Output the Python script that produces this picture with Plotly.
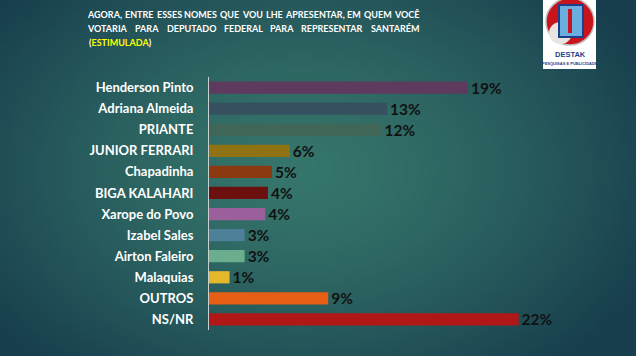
import plotly.graph_objects as go
import numpy as np
import zlib, struct, base64

# ---------------- data ----------------
categories = ["Henderson Pinto", "Adriana Almeida", "PRIANTE", "JUNIOR FERRARI", "Chapadinha",
              "BIGA KALAHARI", "Xarope do Povo", "Izabel Sales", "Airton Faleiro", "Malaquias",
              "OUTROS", "NS/NR"]
values = [18.9, 13.0, 12.6, 5.9, 4.6, 4.3, 4.1, 2.6, 2.6, 1.5, 8.7, 22.6]
value_labels = ["19%", "13%", "12%", "6%", "5%", "4%", "4%", "3%", "3%", "1%", "9%", "22%"]
bar_colors = ["#5e3a5f", "#37505f", "#3f6656", "#8f7213", "#8b3a10", "#6b0f0f",
              "#9b5f9b", "#4f8099", "#6aae8e", "#e5b82b", "#e65f14", "#b01818"]
title_line1 = "AGORA, ENTRE ESSES NOMES QUE VOU LHE APRESENTAR, EM QUEM VOCÊ"
title_line2 = "VOTARIA PARA DEPUTADO FEDERAL PARA REPRESENTAR SANTARÉM"
title_line3 = "(<span style='color:#ffff00'>ESTIMULADA</span>)"

# ---------------- layout constants ----------------
W, H = 636, 356
ML, MR, MT, MB = 209, 16, 77, 26
PW, PH = W - ML - MR, H - MT - MB


def px(x):
    return (x - ML) / PW


def py(y):
    return 1 - (y - MT) / PH


# ---------------- background gradient image ----------------
GW, GH = 160, 90
yy, xx = np.mgrid[0:GH, 0:GW]
gx = (xx + 0.5) / GW * W
gy = (yy + 0.5) / GH * H
d = np.sqrt(((gx - 300) / 380) ** 2 + ((gy - 170) / 260) ** 2)
t = np.clip(d, 0, 1) ** 1.4
c0 = np.array([0x36, 0x76, 0x6b], dtype=float)
c1 = np.array([0x18, 0x3f, 0x4e], dtype=float)
img = c0 * (1 - t)[..., None] + c1 * t[..., None]
img = np.clip(img, 0, 255).astype(np.uint8)
raw = b"".join(b"\x00" + img[r].tobytes() for r in range(GH))


def chunk(tag, data):
    return struct.pack(">I", len(data)) + tag + data + struct.pack(">I", zlib.crc32(tag + data) & 0xffffffff)


png = (b"\x89PNG\r\n\x1a\n" + chunk(b"IHDR", struct.pack(">IIBBBBB", GW, GH, 8, 2, 0, 0, 0))
       + chunk(b"IDAT", zlib.compress(raw)) + chunk(b"IEND", b""))
bg_src = "data:image/png;base64," + base64.b64encode(png).decode()

# ---------------- figure ----------------
fig = go.Figure(go.Bar(
    x=values, y=categories, orientation="h",
    marker=dict(color=bar_colors, line=dict(width=0)),
    text=value_labels, textposition="outside", cliponaxis=False, constraintext="none",
    textfont=dict(family="Lato", size=15.5, color="#111111", weight="bold"),
    hoverinfo="skip",
))

fig.update_layout(
    width=W, height=H,
    margin=dict(l=ML, r=MR, t=MT, b=MB),
    paper_bgcolor="#1f4f58", plot_bgcolor="rgba(0,0,0,0)",
    bargap=0.42, showlegend=False,
    xaxis=dict(range=[0, 30], visible=False, fixedrange=True),
    yaxis=dict(autorange="reversed", showline=True, linecolor="#c8d0d0", linewidth=1,
               ticks="", ticklabelstandoff=12, showgrid=False,
               tickfont=dict(family="Lato", size=13, color="white", weight="bold")),
    images=[dict(source=bg_src, xref="paper", yref="paper", x=px(0), y=py(0),
                 sizex=W / PW, sizey=H / PH, sizing="stretch", xanchor="left", yanchor="top",
                 layer="below")],
)

# ---------------- title (justified word by word) ----------------
TFS = 9
tfont = dict(family="Lato", size=TFS, color="white", weight="bold")
adv = {"A": 690, "B": 650, "C": 640, "D": 740, "E": 560, "F": 540, "G": 720, "H": 760, "I": 290,
       "J": 400, "K": 680, "L": 480, "M": 900, "N": 760, "O": 800, "P": 610, "Q": 800, "R": 640,
       "S": 530, "T": 580, "U": 730, "V": 690, "W": 1020, "X": 660, "Y": 640, "Z": 600,
       "É": 560, "Ê": 560, ",": 220}


def wwidth(w):
    return sum(adv.get(c, 600) for c in w) / 1000 * TFS


X_LEFT, X_RIGHT = 88, 419
annotations = []
for line, yline in ((title_line1, 14), (title_line2, 28)):
    words = line.split(" ")
    widths = [wwidth(w) for w in words]
    gap = (X_RIGHT - X_LEFT - sum(widths)) / (len(words) - 1)
    xcur = X_LEFT
    for w, wd in zip(words, widths):
        annotations.append(dict(text=w, x=px(xcur + wd / 2), y=py(yline), xref="paper", yref="paper",
                                xanchor="center", yanchor="middle", showarrow=False, font=tfont))
        xcur += wd + gap
annotations.append(dict(text=title_line3, x=px(X_LEFT - 1), y=py(43),
                        xref="paper", yref="paper", xanchor="left", yanchor="middle",
                        showarrow=False, font=tfont))

# ---------------- logo ----------------
shapes = [
    dict(type="rect", xref="paper", yref="paper", x0=px(543), x1=px(596), y0=py(0), y1=py(69),
         fillcolor="white", line=dict(width=0), layer="above"),
    dict(type="circle", xref="paper", yref="paper", x0=px(546), x1=px(594), y0=py(-2), y1=py(45),
         fillcolor="#c8141c", line=dict(color="#bbbbbb", width=1.5), layer="above"),
    dict(type="circle", xref="paper", yref="paper", x0=px(549), x1=px(572), y0=py(22), y1=py(44),
         fillcolor="#e8e4df", line=dict(width=0), layer="above"),
    dict(type="rect", xref="paper", yref="paper", x0=px(559), x1=px(583), y0=py(5), y1=py(37),
         fillcolor="#6aaee0", line=dict(color="#1d3f8a", width=2), layer="above"),
    dict(type="rect", xref="paper", yref="paper", x0=px(568), x1=px(572), y0=py(9), y1=py(33),
         fillcolor="#c8141c", line=dict(width=0), layer="above"),
]
annotations.append(dict(text="DESTAK", x=px(570), y=py(54), xref="paper", yref="paper",
                        xanchor="center", yanchor="middle", showarrow=False,
                        font=dict(family="Liberation Sans", size=7.5,
                                  color="#1d3f8a", weight="bold")))
annotations.append(dict(text="PESQUISAS E PUBLICIDADE", x=px(570), y=py(63), xref="paper", yref="paper",
                        xanchor="center", yanchor="middle", showarrow=False,
                        font=dict(family="Liberation Sans", size=4,
                                  color="#1d3f8a", weight="bold")))

fig.update_layout(annotations=annotations, shapes=shapes)
fig.write_html("out.html")
